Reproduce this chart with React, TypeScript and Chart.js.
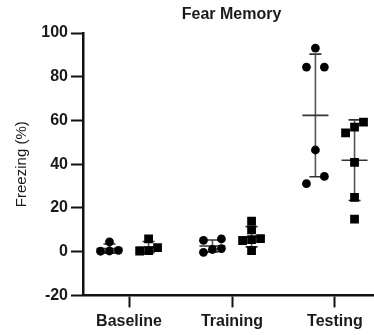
import React, { useEffect, useRef } from 'react';
import { Chart, registerables } from 'chart.js';

Chart.register(...registerables);

// ---- data ----
const categories = ['Baseline', 'Training', 'Testing'];
const circleBaseline = [4.5, 0.6, 0.3, 0.2];
const circleTraining = [5.8, 5.2, 1.4, 1.0, -0.3];
const circleTesting = [93.1, 84.4, 84.4, 46.5, 34.4, 31.1];
const squareBaseline = [5.8, 1.8, 0.5, 0.3];
const squareTraining = [14, 10, 6, 5.5, 5, 0.5];
const squareTesting = [59.2, 57.0, 54.3, 40.8, 24.8, 14.9];
const yTicks = [-20, 0, 20, 40, 60, 80, 100];
const titleText = 'Fear Memory';
const yTitle = 'Freezing (%)';

// ---- layout / style constants ----
const FONT = '"Liberation Sans", Arial, sans-serif';
const TEXT = '#1a1a1a';
const GROUP_OFFSET = 0.19;
const SPREAD = 0.087;
const ROW_GAP = 3.6;

const circleGroups = [circleBaseline, circleTraining, circleTesting];
const squareGroups = [squareBaseline, squareTraining, squareTesting];

function swarm(values: number[], center: number) {
  const sorted = [...values].sort((a, b) => b - a);
  const rows: number[][] = [];
  for (const v of sorted) {
    const last = rows[rows.length - 1];
    if (last && last[last.length - 1] - v < ROW_GAP) last.push(v);
    else rows.push([v]);
  }
  const pts: { x: number; y: number }[] = [];
  for (const row of rows) {
    const asc = [...row].sort((a, b) => a - b);
    const n = asc.length;
    asc.forEach((v, k) => {
      const off = n === 1 ? 0 : -SPREAD + (2 * SPREAD * k) / (n - 1);
      pts.push({ x: center + off, y: v });
    });
  }
  return pts;
}

function stats(values: number[]) {
  const n = values.length;
  const mean = values.reduce((s, v) => s + v, 0) / n;
  const sd = Math.sqrt(values.reduce((s, v) => s + (v - mean) ** 2, 0) / (n - 1));
  return { mean, sd };
}

const errorBarPlugin = {
  id: 'errorBars',
  beforeDatasetsDraw(chart: any) {
    const { ctx, scales } = chart;
    const xs = scales.x;
    const ys = scales.y;
    const draw = (groups: number[][], sign: number) => {
      groups.forEach((vals, i) => {
        const { mean, sd } = stats(vals);
        const cx = xs.getPixelForValue(i + sign * GROUP_OFFSET);
        const yTop = ys.getPixelForValue(mean + sd);
        const yBot = ys.getPixelForValue(mean - sd);
        const yMean = ys.getPixelForValue(mean);
        ctx.save();
        ctx.strokeStyle = '#555';
        ctx.lineWidth = 1.6;
        ctx.beginPath();
        ctx.moveTo(cx, yTop);
        ctx.lineTo(cx, yBot);
        ctx.stroke();
        ctx.strokeStyle = '#333';
        ctx.beginPath();
        ctx.moveTo(cx - 6, yTop);
        ctx.lineTo(cx + 6, yTop);
        ctx.moveTo(cx - 6, yBot);
        ctx.lineTo(cx + 6, yBot);
        ctx.moveTo(cx - 13, yMean);
        ctx.lineTo(cx + 13, yMean);
        ctx.stroke();
        ctx.restore();
      });
    };
    draw(circleGroups, -1);
    draw(squareGroups, 1);
  },
};

const titlePlugin = {
  id: 'centerTitle',
  afterDraw(chart: any) {
    const { ctx, chartArea } = chart;
    ctx.save();
    ctx.font = `bold 16px ${FONT}`;
    ctx.fillStyle = TEXT;
    ctx.textAlign = 'center';
    ctx.textBaseline = 'alphabetic';
    ctx.fillText(titleText, (chartArea.left + chartArea.right) / 2 + 3, 19);
    ctx.restore();
  },
};

export default function App() {
  const ref = useRef<HTMLCanvasElement>(null);

  useEffect(() => {
    document.body.style.margin = '0';
    const circleData = circleGroups.flatMap((g, i) => swarm(g, i - GROUP_OFFSET));
    const squareData = squareGroups.flatMap((g, i) => swarm(g, i + GROUP_OFFSET));

    const tickFont = { family: FONT, size: 16, weight: 'bold' as const, lineHeight: 1.1 };
    const chart = new Chart(ref.current!, {
      type: 'scatter',
      data: {
        datasets: [
          {
            label: 'Group 1',
            data: circleData,
            pointStyle: 'circle',
            pointRadius: 4.4,
            backgroundColor: '#000',
            borderColor: '#000',
            borderWidth: 0,
          },
          {
            label: 'Group 2',
            data: squareData,
            pointStyle: 'rect',
            pointRadius: 6.2,
            backgroundColor: '#000',
            borderColor: '#000',
            borderWidth: 0,
          },
        ],
      },
      options: {
        animation: false,
        responsive: false,
        devicePixelRatio: 1,
        layout: { autoPadding: false, padding: { top: 33, right: 0, bottom: 0, left: 0 } },
        plugins: {
          legend: { display: false },
          tooltip: { enabled: false },
          title: { display: false },
        },
        scales: {
          x: {
            type: 'linear',
            min: -0.447,
            max: 2.379,
            afterBuildTicks: (axis: any) => {
              axis.ticks = categories.map((_, i) => ({ value: i }));
            },
            afterFit: (axis: any) => {
              axis.paddingLeft = 0;
              axis.paddingRight = 0;
            },
            ticks: {
              callback: (v: any) => categories[v] ?? '',
              font: tickFont,
              color: TEXT,
              padding: 5,
              maxRotation: 0,
              autoSkip: false,
            },
            grid: {
              display: true,
              drawOnChartArea: false,
              drawTicks: true,
              tickLength: 12,
              tickWidth: 2,
              tickColor: '#111',
            },
            border: { display: true, color: '#111', width: 2.5 },
          },
          y: {
            type: 'linear',
            min: -20,
            max: 100,
            afterBuildTicks: (axis: any) => {
              axis.ticks = yTicks.map((v) => ({ value: v }));
            },
            afterFit: (axis: any) => {
              axis.width = 83;
            },
            ticks: {
              font: { family: FONT, size: 16, weight: 'bold' as const },
              color: TEXT,
              padding: 3,
            },
            grid: {
              display: true,
              drawOnChartArea: false,
              drawTicks: true,
              tickLength: 12,
              tickWidth: 2,
              tickColor: '#111',
            },
            border: { display: true, color: '#111', width: 2.5 },
            title: {
              display: true,
              text: yTitle,
              font: { family: FONT, size: 15 },
              color: TEXT,
              padding: { top: 13, bottom: 10 },
            },
          },
        },
      },
      plugins: [errorBarPlugin, titlePlugin],
    } as any);
    return () => chart.destroy();
  }, []);

  return (
    <div style={{ width: 374, height: 335 }}>
      <canvas ref={ref} width={374} height={335} style={{ display: 'block' }} />
    </div>
  );
}
